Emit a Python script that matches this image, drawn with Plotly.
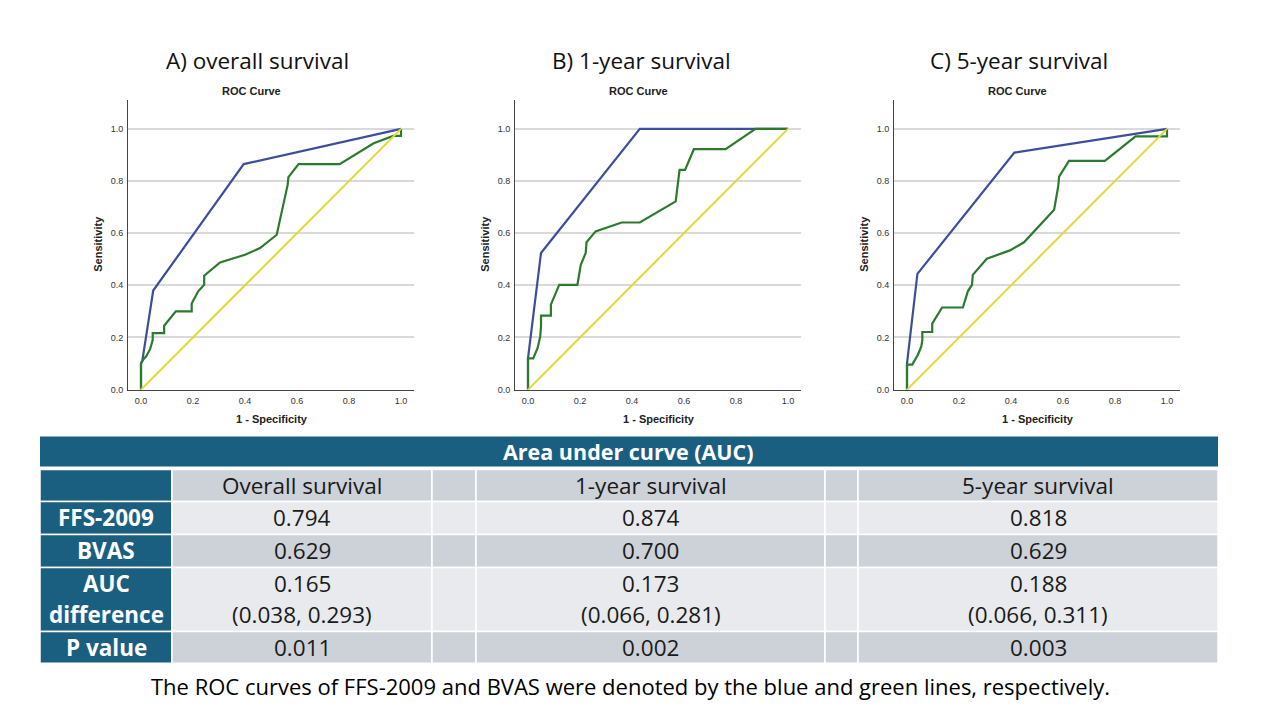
import plotly.graph_objects as go

W, H = 1280, 720

# ---------------- data ----------------
panel_titles = ["A) overall survival", "B) 1-year survival", "C) 5-year survival"]
categories = ["Overall survival", "1-year survival", "5-year survival"]

# FFS-2009 (blue) ROC curves
blue_A_x = [0, 0, 0.005, 0.047, 0.395, 1.0]
blue_A_y = [0, 0.10, 0.11, 0.38, 0.865, 1.0]
blue_B_x = [0, 0, 0.05, 0.43, 1.0]
blue_B_y = [0, 0.12, 0.524, 1.0, 1.0]
blue_C_x = [0, 0, 0.04, 0.413, 1.0]
blue_C_y = [0, 0.10, 0.444, 0.909, 1.0]

# BVAS (green) ROC curves
green_A_x = [0, 0, 0.008, 0.02, 0.035, 0.045, 0.045, 0.089, 0.089, 0.134, 0.195, 0.195,
             0.22, 0.243, 0.243, 0.304, 0.40, 0.458, 0.522, 0.564, 0.567, 0.606, 0.764,
             0.895, 0.97, 1.0, 1.0]
green_A_y = [0, 0.10, 0.115, 0.128, 0.155, 0.19, 0.217, 0.217, 0.245, 0.30, 0.30, 0.33,
             0.377, 0.402, 0.437, 0.488, 0.517, 0.543, 0.594, 0.785, 0.815, 0.865, 0.865,
             0.945, 0.973, 0.973, 1.0]
green_B_x = [0, 0, 0.02, 0.037, 0.047, 0.05, 0.05, 0.088, 0.088, 0.12, 0.19, 0.203, 0.222,
             0.225, 0.26, 0.36, 0.43, 0.568, 0.583, 0.604, 0.638, 0.76, 0.875, 1.0]
green_B_y = [0, 0.12, 0.12, 0.16, 0.204, 0.243, 0.284, 0.284, 0.326, 0.402, 0.402, 0.479,
             0.524, 0.565, 0.607, 0.641, 0.641, 0.722, 0.843, 0.843, 0.922, 0.922, 1.0, 1.0]
green_C_x = [0, 0, 0.02, 0.042, 0.055, 0.059, 0.059, 0.097, 0.097, 0.135, 0.215, 0.234, 0.25,
             0.253, 0.307, 0.396, 0.45, 0.566, 0.582, 0.585, 0.623, 0.761, 0.879, 1.0, 1.0]
green_C_y = [0, 0.096, 0.096, 0.134, 0.166, 0.19, 0.221, 0.221, 0.253, 0.315, 0.315, 0.377,
             0.402, 0.44, 0.502, 0.534, 0.565, 0.69, 0.782, 0.817, 0.877, 0.877, 0.971,
             0.971, 1.0]

ref_x = [0, 1]
ref_y = [0, 1]

y_ticks = [0.0, 0.2, 0.4, 0.6, 0.8, 1.0]
x_ticks = [0.0, 0.2, 0.4, 0.6, 0.8, 1.0]

# table values
table_title = "Area under curve (AUC)"
row_labels = ["FFS-2009", "BVAS", "AUC", "difference", "P value"]
ffs_auc = ["0.794", "0.874", "0.818"]
bvas_auc = ["0.629", "0.700", "0.629"]
auc_diff = ["0.165", "0.173", "0.188"]
auc_diff_ci = ["(0.038, 0.293)", "(0.066, 0.281)", "(0.066, 0.311)"]
p_values = ["0.011", "0.002", "0.003"]
caption = "The ROC curves of FFS-2009 and BVAS were denoted by the blue and green lines, respectively."

# ---------------- styles ----------------
BLUE = "#3d4f9c"
GREEN = "#2b7a2e"
YELLOW = "#e3d833"
TEAL = "#1a5e80"
GRAY_D = "#cdd1d8"
GRAY_L = "#e8eaed"
SPSS_FONT = "Liberation Sans, Arial, sans-serif"
SLIDE_FONT = "Open Sans, sans-serif"

K = 1.006  # small vertical correction

def px(x):
    return x / W

def py(y):
    return 1 - (y * K) / H

fig = go.Figure()

panels = [
    (blue_A_x, blue_A_y, green_A_x, green_A_y),
    (blue_B_x, blue_B_y, green_B_x, green_B_y),
    (blue_C_x, blue_C_y, green_C_x, green_C_y),
]
plot_left = [128, 515, 894]
title_cx = [257.5, 641, 1019]
plot_w = 286
plot_top, plot_bottom = 100.3, 390

annotations = []
shapes = []

for i, (bx, by, gx, gy) in enumerate(panels):
    xa = "x" if i == 0 else f"x{i+1}"
    ya = "y" if i == 0 else f"y{i+1}"
    fig.add_trace(go.Scatter(x=bx, y=by, mode="lines", line=dict(color=BLUE, width=2.2),
                             xaxis=xa, yaxis=ya, showlegend=False, hoverinfo="skip"))
    fig.add_trace(go.Scatter(x=gx, y=gy, mode="lines", line=dict(color=GREEN, width=2.2),
                             xaxis=xa, yaxis=ya, showlegend=False, hoverinfo="skip"))
    fig.add_trace(go.Scatter(x=ref_x, y=ref_y, mode="lines", line=dict(color=YELLOW, width=2),
                             xaxis=xa, yaxis=ya, showlegend=False, hoverinfo="skip"))
    l = plot_left[i]
    xkey = "xaxis" if i == 0 else f"xaxis{i+1}"
    ykey = "yaxis" if i == 0 else f"yaxis{i+1}"
    fig.update_layout(**{
        xkey: dict(domain=[px(l), px(l + plot_w)], range=[-0.05, 1.05], anchor=ya,
                   tickvals=x_ticks, tickformat=".1f", showgrid=False, zeroline=False,
                   showline=True, linecolor="#444", linewidth=1, ticks="outside",
                   ticklen=3, tickcolor="rgba(0,0,0,0)",
                   tickfont=dict(family=SPSS_FONT, size=9, color="#333")),
        ykey: dict(domain=[py(plot_bottom), py(plot_top)], range=[0, 1.11], anchor=xa,
                   tickvals=y_ticks, tickformat=".1f", showgrid=True, gridcolor="#d9d9d9",
                   gridwidth=1.5, zeroline=False, showline=True, linecolor="#444",
                   linewidth=1, ticks="outside", ticklen=2, tickcolor="rgba(0,0,0,0)",
                   tickfont=dict(family=SPSS_FONT, size=9, color="#333")),
    })
    # panel title
    annotations.append(dict(x=px(title_cx[i]), y=py(61), xref="paper", yref="paper",
                            text=panel_titles[i], showarrow=False,
                            font=dict(family=SLIDE_FONT, size=22.5, color="#111"),
                            xanchor="center", yanchor="middle"))
    annotations.append(dict(x=px(l + 123), y=py(91), xref="paper", yref="paper",
                            text="<b>ROC Curve</b>", showarrow=False,
                            font=dict(family=SPSS_FONT, size=11, color="#222"),
                            xanchor="center", yanchor="middle"))
    annotations.append(dict(x=px(l - 30), y=py(244), xref="paper", yref="paper",
                            text="<b>Sensitivity</b>", showarrow=False, textangle=-90,
                            font=dict(family=SPSS_FONT, size=11, color="#222"),
                            xanchor="center", yanchor="middle"))
    annotations.append(dict(x=px(l + 144), y=py(419), xref="paper", yref="paper",
                            text="<b>1 - Specificity</b>", showarrow=False,
                            font=dict(family=SPSS_FONT, size=11, color="#222"),
                            xanchor="center", yanchor="middle"))

# ---------------- table ----------------
col_edges = [40, 172, 432, 476, 825, 858, 1218]
row_edges = [470, 502, 535, 568, 632, 664]
row_fill = [GRAY_D, GRAY_L, GRAY_D, GRAY_L, GRAY_D]

shapes.append(dict(type="rect", xref="paper", yref="paper", x0=px(40), x1=px(1218),
                   y0=py(467), y1=py(437), fillcolor=TEAL, line=dict(width=0), layer="below"))
annotations.append(dict(x=px(628), y=py(452), xref="paper", yref="paper",
                        text=f"<b>{table_title}</b>", showarrow=False,
                        font=dict(family=SLIDE_FONT, size=21.5, color="white"),
                        xanchor="center", yanchor="middle"))

for r in range(5):
    for c in range(6):
        fill = TEAL if c == 0 else row_fill[r]
        shapes.append(dict(type="rect", xref="paper", yref="paper",
                           x0=px(col_edges[c]), x1=px(col_edges[c + 1]),
                           y0=py(row_edges[r + 1]), y1=py(row_edges[r]),
                           fillcolor=fill, line=dict(color="white", width=1.5), layer="below"))

col_centers = [(col_edges[k] + col_edges[k + 1]) / 2 for k in (1, 3, 5)]
lab_cx = (col_edges[0] + col_edges[1]) / 2

def cell_text(x, y, t, bold=False, color="#1a1a1a"):
    annotations.append(dict(x=px(x), y=py(y), xref="paper", yref="paper",
                            text=f"<b>{t}</b>" if bold else t, showarrow=False,
                            font=dict(family=SLIDE_FONT, size=22.5, color=color),
                            xanchor="center", yanchor="middle"))

row_mid = [(row_edges[r] + row_edges[r + 1]) / 2 for r in range(5)]
for j in range(3):
    cx = col_centers[j]
    cell_text(cx, row_mid[0], categories[j])
    cell_text(cx, row_mid[1], ffs_auc[j])
    cell_text(cx, row_mid[2], bvas_auc[j])
    cell_text(cx, 584, auc_diff[j])
    cell_text(cx, 615, auc_diff_ci[j])
    cell_text(cx, row_mid[4], p_values[j])

cell_text(lab_cx, row_mid[1], row_labels[0], True, "white")
cell_text(lab_cx, row_mid[2], row_labels[1], True, "white")
cell_text(lab_cx, 584, row_labels[2], True, "white")
cell_text(lab_cx, 615, row_labels[3], True, "white")
cell_text(lab_cx, row_mid[4], row_labels[4], True, "white")

annotations.append(dict(x=px(630), y=py(687), xref="paper", yref="paper",
                        text=caption, showarrow=False,
                        font=dict(family=SLIDE_FONT, size=22, color="#000"),
                        xanchor="center", yanchor="middle"))

fig.update_layout(width=W, height=H, margin=dict(l=0, r=0, t=0, b=0),
                  paper_bgcolor="white", plot_bgcolor="white",
                  annotations=annotations, shapes=shapes)

fig.write_html("out.html", config={"displayModeBar": False},
               post_script="document.body.style.margin='0px';")
